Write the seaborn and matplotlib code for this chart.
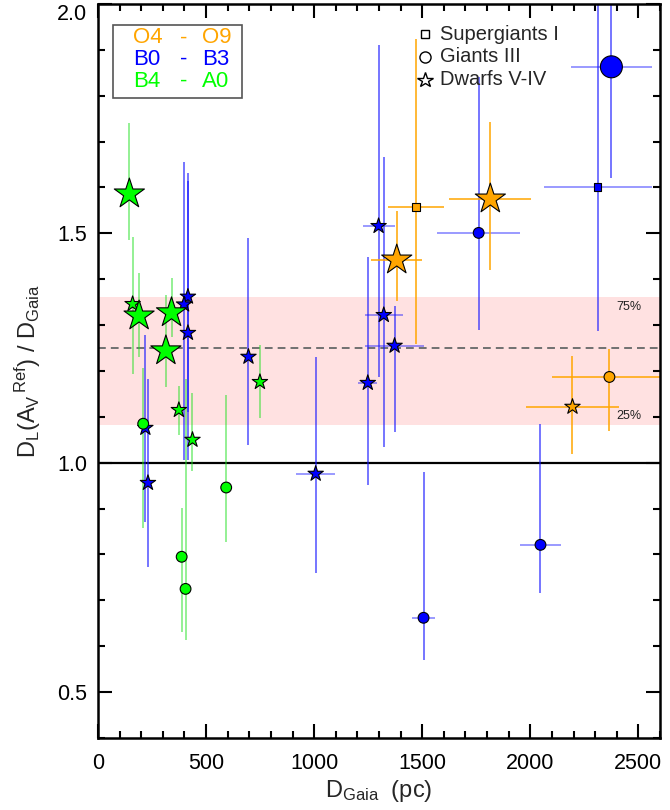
import numpy as np
import pandas as pd
import matplotlib
matplotlib.use('Agg')
import matplotlib.pyplot as plt
import seaborn as sns
from matplotlib.patches import Rectangle
from matplotlib.ticker import MultipleLocator

# spectral groups: O = O4-O9, B = B0-B3, A = B4-A0
spec = ['O'] * 5 + ['B'] * 16 + ['A'] * 12
# luminosity class: I supergiants, III giants, V dwarfs (V-IV)
lum = ['V', 'V', 'I', 'III', 'V',
       'III', 'I', 'III', 'III', 'III', 'V', 'V', 'V', 'V', 'V', 'V', 'V', 'V', 'V', 'V', 'V',
       'V', 'V', 'V', 'V', 'V', 'V', 'V', 'V', 'III', 'III', 'III', 'III']
big = [1, 1, 0, 0, 0,
       1, 0, 0, 0, 0, 0, 0, 0, 0, 0, 0, 0, 0, 0, 0, 0,
       1, 0, 1, 1, 1, 0, 0, 0, 0, 0, 0, 0]

d_gaia = [1815, 1382, 1470, 2366, 2195,
          2375, 2311, 1761, 2047, 1506, 1298, 1322, 1372, 1248, 1007, 696, 416, 398, 416, 219, 231,
          145, 160, 190, 340, 314, 749, 374, 437, 209, 593, 387, 405]
d_err = [190, 117, 130, 268, 215,
         187, 250, 192, 95, 53, 74, 88, 136, 44, 90, 0, 0, 0, 0, 0, 0,
         0, 0, 0, 0, 0, 0, 0, 0, 0, 0, 0, 0]
ratio = [1.575, 1.442, 1.558, 1.187, 1.122,
         1.863, 1.601, 1.501, 0.821, 0.662, 1.516, 1.322, 1.255, 1.174, 0.976, 1.231, 1.362, 1.345, 1.283, 1.076, 0.956,
         1.586, 1.346, 1.320, 1.327, 1.244, 1.176, 1.115, 1.050, 1.085, 0.946, 0.795, 0.725]
r_err_up = [0.168, 0.107, 0.366, 0.061, 0.110,
            0.250, 0.450, 0.340, 0.264, 0.318, 0.395, 0.345, 0.087, 0.275, 0.255, 0.259, 0.270, 0.311, 0.331, 0.203, 0.227,
            0.155, 0.146, 0.094, 0.076, 0.122, 0.081, 0.053, 0.103, 0.122, 0.202, 0.107, 0.458]
r_err_dn = [0.155, 0.089, 0.300, 0.117, 0.103,
            0.242, 0.313, 0.211, 0.104, 0.093, 0.329, 0.287, 0.187, 0.222, 0.216, 0.192, 0.251, 0.338, 0.276, 0.205, 0.183,
            0.100, 0.152, 0.089, 0.052, 0.078, 0.078, 0.054, 0.067, 0.227, 0.118, 0.163, 0.111]

q25, q50, q75 = 1.083, 1.25, 1.362

df = pd.DataFrame({'D': d_gaia, 'R': ratio, 'dx': d_err, 'up': r_err_up, 'dn': r_err_dn,
                   'cls': spec, 'lum': lum, 'big': big})
df['skey'] = df['lum'] + np.where(df['big'] == 1, '_big', '')

colors = {'O': '#FFA500', 'B': '#0000FF', 'A': '#00FF00'}
# (colour, alpha of y bars, alpha of x bars)
bar_col = {'O': ('#FFA500', 1.0, 1.0), 'B': ('#1515FF', 0.75, 0.55), 'A': ('#22E022', 0.62, 0.55)}
marks = {'I': 's', 'III': 'o', 'V': '*'}
size_map = {'I': 32, 'III': 60, 'III_big': 250, 'V': 135, 'V_big': 520}

sns.set_style('ticks')
plt.rcParams['font.family'] = ['Liberation Sans', 'DejaVu Sans']
plt.rcParams['mathtext.default'] = 'regular'

fig = plt.figure(figsize=(6.7, 8.1), dpi=100)
ax = fig.add_axes([0.1463, 0.0889, 0.8388, 0.9062])

ax.axhspan(q25, q75, color='#FFE1E1', zorder=0, lw=0)
ax.axhline(q50, color='#707070', lw=1.4, ls=(0, (4, 2.6)), zorder=1)
ax.axhline(1.0, color='black', lw=1.6, zorder=1)

for c, g in df.groupby('cls'):
    col, ay, axx = bar_col[c]
    ax.errorbar(g['D'], g['R'], yerr=[g['dn'], g['up']], fmt='none', ecolor=col,
                alpha=ay, elinewidth=1.1, capsize=0, zorder=2)
    gx = g[g['dx'] > 0]
    ax.errorbar(gx['D'], gx['R'], xerr=gx['dx'], fmt='none', ecolor=col,
                alpha=axx, elinewidth=1.1, capsize=0, zorder=2)

sns.scatterplot(data=df, x='D', y='R', hue='cls', palette=colors, style='lum', markers=marks,
                size='skey', sizes=size_map, edgecolor='black', linewidth=0.8,
                legend=False, zorder=3, ax=ax)

ax.set_xlim(0, 2600)
ax.set_ylim(0.4, 2.0)
ax.xaxis.set_major_locator(MultipleLocator(500))
ax.xaxis.set_minor_locator(MultipleLocator(100))
ax.yaxis.set_major_locator(MultipleLocator(0.5))
ax.yaxis.set_minor_locator(MultipleLocator(0.1))
ax.yaxis.set_major_formatter(plt.FormatStrFormatter('%.1f'))
ax.tick_params(which='both', direction='in', top=True, right=True, width=1.5, colors='black')
ax.tick_params(which='major', length=10, labelsize=15.5)
ax.tick_params(axis='x', which='major', pad=11)
ax.tick_params(axis='y', which='major', pad=8)
ax.tick_params(which='minor', length=5)
for s in ax.spines.values():
    s.set_linewidth(1.8)
    s.set_color('black')

ax.set_xlabel('D$_{Gaia}$  (pc)', fontsize=17, labelpad=3)
ax.set_ylabel('D$_L$(A$_V$$^{\\,Ref}$) / D$_{Gaia}$', fontsize=17, labelpad=10)

# spectral type box
ax.add_patch(Rectangle((0.0267, 0.872), 0.229, 0.099, transform=ax.transAxes,
                       facecolor='white', edgecolor='#555555', lw=1.2, zorder=4))
rows = [('O4', 'O9', 'O', 0.954), ('B0', 'B3', 'B', 0.925), ('B4', 'A0', 'A', 0.895)]
for a, b, c, yy in rows:
    ax.text(0.062, yy, a, color=colors[c], fontsize=16, va='center', transform=ax.transAxes, zorder=5)
    ax.text(0.152, yy, '-', color=colors[c], fontsize=16, va='center', ha='center', transform=ax.transAxes, zorder=5)
    ax.text(0.185, yy, b, color=colors[c], fontsize=16, va='center', transform=ax.transAxes, zorder=5)

# luminosity class key
keys = [('s', 5.5, 'Supergiants I', 0.959), ('o', 8, 'Giants III', 0.928), ('*', 11.5, 'Dwarfs V-IV', 0.897)]
for m, ms, lab, yy in keys:
    ax.plot([0.582], [yy], marker=m, ms=ms, mfc='white', mec='black', mew=1.0,
            transform=ax.transAxes, zorder=5, clip_on=False)
    ax.text(0.608, yy, lab, fontsize=14.5, va='center', transform=ax.transAxes, zorder=5)

ax.text(2458, 1.34, '75%', fontsize=9, ha='center', va='center', color='#222222')
ax.text(2458, 1.102, '25%', fontsize=9, ha='center', va='center', color='#222222')

# top label sits below the frame edge, as in the original
fig.canvas.draw()
for lab in ax.get_yticklabels():
    if lab.get_text() == '2.0':
        lab.set_va('top')

fig.savefig('out.png', dpi=100)
